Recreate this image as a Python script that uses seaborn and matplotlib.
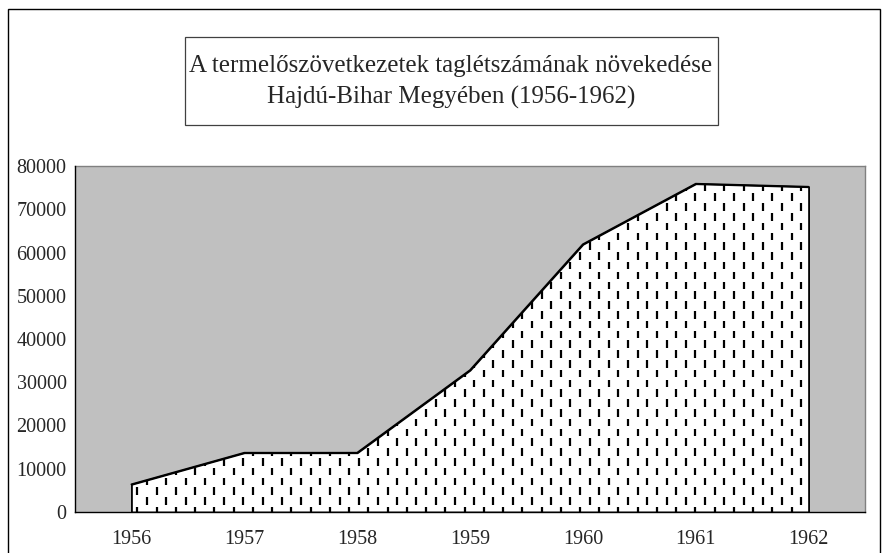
import matplotlib
matplotlib.use("Agg")
import matplotlib.pyplot as plt
from matplotlib.collections import LineCollection
from matplotlib.patches import Rectangle
import numpy as np
import seaborn as sns

# data
years = [1956, 1957, 1958, 1959, 1960, 1961, 1962]
members = [6400, 13700, 13700, 32800, 61900, 75900, 75200]
y_ticks = [0, 10000, 20000, 30000, 40000, 50000, 60000, 70000, 80000]
title_lines = ["A termelőszövetkezetek taglétszámának növekedése",
               "Hajdú-Bihar Megyében (1956-1962)"]

sns.set_style("white")
plt.rcParams['font.family'] = ['Liberation Serif', 'DejaVu Serif']

W, H = 887, 553
fig = plt.figure(figsize=(W / 100, H / 100), dpi=100)
fig.patch.set_facecolor('white')

# plot area in pixels
left, right, top, bottom = 75, 865, 166, 512
ax = fig.add_axes([left / W, (H - bottom) / H, (right - left) / W, (bottom - top) / H])
ax.set_facecolor('#c0c0c0')

poly = ax.fill_between(years, members, 0, facecolor='white', edgecolor='black', linewidth=1.3, zorder=2)
sns.lineplot(x=years, y=members, color='black', linewidth=1.3, ax=ax, zorder=4)

ax.set_xlim(years[0] - 0.5, years[-1] + 0.5)
ax.set_ylim(0, 80000)

# vertical dashed pattern (Excel style), clipped to the area
fig.canvas.draw()
segs = []
dx, dy, dash = 9.62, 19.6, 7.5
x_start = 243.3 - dx * 18
col = 0
x = x_start
while x < right + 5:
    off = 0 if col % 2 == 0 else dy / 2
    y = 458 - dy * 16 + off
    while y < bottom + 10:
        segs.append([(x, H - y), (x, H - (y + dash))])
        y += dy
    x += dx
    col += 1
lc = LineCollection(segs, colors='black', linewidths=1.6, transform=None, zorder=3)
ax.add_collection(lc)
lc.set_clip_path(poly.get_paths()[0], ax.transData)

ax.set_yticks(y_ticks)
ax.set_xticks(years)
ax.set_xticks([v - 0.5 for v in years] + [years[-1] + 0.5], minor=True)
ax.tick_params(axis='x', which='major', length=0, pad=13, labelsize=14.5)
ax.tick_params(axis='x', which='minor', length=7, direction='inout', width=0.8, color='black')
ax.tick_params(axis='y', length=8, direction='inout', width=0.8, color='black', pad=2, labelsize=14.5)
ax.set_yticklabels([str(v) for v in y_ticks])

for s in ['left', 'bottom']:
    ax.spines[s].set_color('black')
    ax.spines[s].set_linewidth(1.0)
for s in ['top', 'right']:
    ax.spines[s].set_color('#808080')
    ax.spines[s].set_linewidth(1.0)
ax.spines['left'].set_zorder(5)
ax.spines['bottom'].set_zorder(5)

# outer chart border
fig.patches.append(Rectangle((8 / W, -0.1), (880 - 8) / W, 1.1 - 9 / H, transform=fig.transFigure,
                             fill=False, edgecolor='black', linewidth=1.0))
# title box
fig.patches.append(Rectangle((185 / W, 1 - 125 / H), (718 - 185) / W, (125 - 37) / H,
                             transform=fig.transFigure, fill=False, edgecolor='#404040', linewidth=0.9))
fig.text(451 / W, 1 - 66 / H, title_lines[0], ha='center', va='center', fontsize=18)
fig.text(451 / W, 1 - 97 / H, title_lines[1], ha='center', va='center', fontsize=18)

fig.savefig('out.png', dpi=100)
